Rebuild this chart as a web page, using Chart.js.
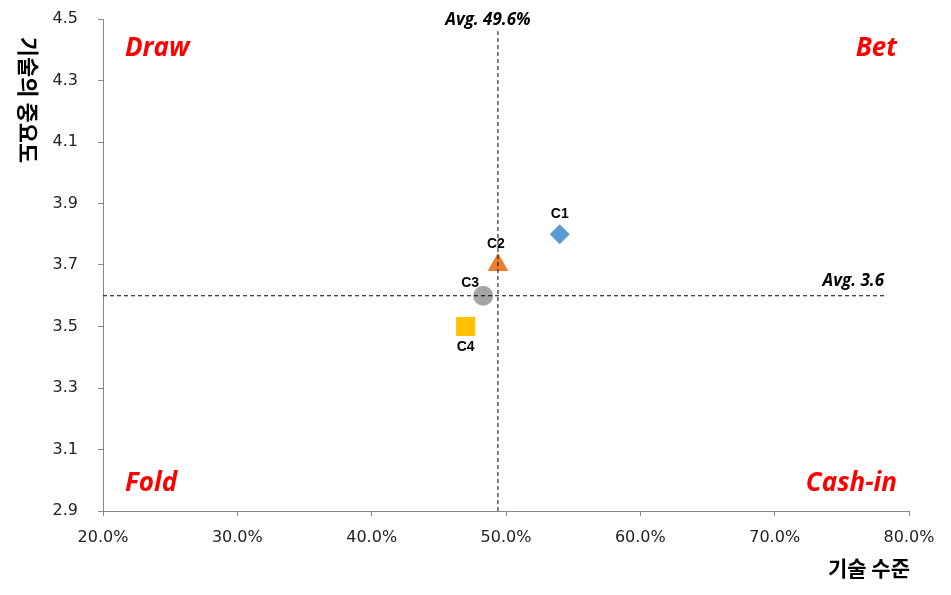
<!DOCTYPE html>
<html>
<head>
<meta charset="utf-8">
<script src="https://cdn.jsdelivr.net/npm/chart.js@4.4.0/dist/chart.umd.min.js"></script>
<style>
  html, body { margin: 0; padding: 0; background: #fff; }
  #wrap { width: 951px; height: 595px; position: relative; }
</style>
</head>
<body>
<div id="wrap"><canvas id="chart"></canvas></div>
<script>
const names = ["C1", "C2", "C3", "C4"];
const techLevel = [54.0, 49.4, 48.3, 47.0];
const importance = [3.8, 3.7, 3.6, 3.5];
const pointColors = ["#5B9BD5", "#ED7D31", "#A5A5A5", "#FFC000"];
const pointStyles = ["rectRot", "triangle", "circle", "rect"];
const pointSizes = [10, 12, 10, 13.5];

const avgLevel = 49.4;
const avgImportance = 3.6;
const avgLevelText = "Avg. 49.6%";
const avgImportanceText = "Avg. 3.6";

const xTicks = [20, 30, 40, 50, 60, 70, 80];
const yTicks = [2.9, 3.1, 3.3, 3.5, 3.7, 3.9, 4.1, 4.3, 4.5];

const xTitle = "기술 수준";
const yTitle = "기술의 중요도";

const axisColor = "#868686";
const tickFont = { family: "DejaVu Sans", size: 16 };

// label offsets around each marker (px)
const labelOffsets = [[0, -20], [-2, -21], [-13, -13], [0, 21]];

const annotations = {
  id: "annotations",
  afterDatasetsDraw(chart) {
    const { ctx, chartArea, scales } = chart;
    ctx.save();

    // point labels
    ctx.fillStyle = "#000";
    ctx.font = "bold 14px 'Liberation Sans'";
    ctx.textAlign = "center";
    ctx.textBaseline = "middle";
    names.forEach((name, i) => {
      const px = scales.x.getPixelForValue(techLevel[i]);
      const py = scales.y.getPixelForValue(importance[i]);
      ctx.fillText(name, px + labelOffsets[i][0], py + labelOffsets[i][1]);
    });

    // avg labels
    ctx.font = "italic bold 17px 'Open Sans'";
    ctx.textBaseline = "alphabetic";
    ctx.textAlign = "center";
    ctx.fillText(avgLevelText, scales.x.getPixelForValue(avgLevel) - 10, 25);
    ctx.textAlign = "right";
    ctx.fillText(avgImportanceText, 884, scales.y.getPixelForValue(avgImportance) - 10);

    // quadrant labels
    ctx.fillStyle = "#FF0000";
    ctx.font = "italic bold 26px 'Open Sans'";
    ctx.textAlign = "left";
    ctx.fillText("Draw", chartArea.left + 22, 56);
    ctx.fillText("Fold", chartArea.left + 22, 491);
    ctx.textAlign = "right";
    ctx.fillText("Bet", chartArea.right - 12, 56);
    ctx.fillText("Cash-in", chartArea.right - 12, 491);

    // axis titles
    ctx.fillStyle = "#000";
    ctx.font = "bold 21px 'Noto Sans CJK KR'";
    ctx.textAlign = "right";
    ctx.textBaseline = "middle";
    ctx.fillText(xTitle, 910, 568);

    ctx.font = "bold 22px 'Noto Sans CJK KR'";
    ctx.translate(28, 100);
    ctx.rotate(Math.PI / 2);
    ctx.textAlign = "center";
    ctx.fillText(yTitle, 0, 0);

    ctx.restore();
  },
};

const pointDatasets = names.map((name, i) => ({
  label: name,
  data: [{ x: techLevel[i], y: importance[i] }],
  pointStyle: pointStyles[i],
  pointRadius: pointSizes[i],
  pointHoverRadius: pointSizes[i],
  backgroundColor: pointColors[i],
  borderColor: pointColors[i],
  borderWidth: 0,
}));

const lineStyle = {
  showLine: true,
  pointRadius: 0,
  borderColor: "#000",
  borderWidth: 1,
  borderDash: [4, 3],
  fill: false,
};

new Chart(document.getElementById("chart"), {
  type: "scatter",
  data: {
    datasets: [
      {
        label: "avgLevel",
        data: [{ x: avgLevel, y: 2.9 }, { x: avgLevel, y: 4.46 }],
        ...lineStyle,
      },
      {
        label: "avgImportance",
        data: [{ x: 20, y: avgImportance }, { x: 78.3, y: avgImportance }],
        ...lineStyle,
      },
      ...pointDatasets,
    ],
  },
  options: {
    responsive: true,
    maintainAspectRatio: false,
    animation: false,
    layout: { padding: { left: 0, top: 19, right: 42, bottom: 0 } },
    plugins: {
      legend: { display: false },
      tooltip: { enabled: false },
    },
    scales: {
      x: {
        type: "linear",
        min: xTicks[0],
        max: xTicks[xTicks.length - 1],
        afterBuildTicks: (scale) => {
          scale.ticks = xTicks.map((v) => ({ value: v }));
        },
        afterFit: (scale) => {
          scale.height = 84;
          scale.paddingLeft = 0;
          scale.paddingRight = 0;
        },
        ticks: {
          color: "#222",
          font: tickFont,
          padding: 12,
          maxRotation: 0,
          callback: (v) => Number(v).toFixed(1) + "%",
        },
        grid: {
          drawOnChartArea: false,
          drawTicks: true,
          tickLength: 5,
          color: axisColor,
        },
        border: { display: true, color: axisColor, width: 1 },
      },
      y: {
        type: "linear",
        min: yTicks[0],
        max: yTicks[yTicks.length - 1],
        afterBuildTicks: (scale) => {
          scale.ticks = yTicks.map((v) => ({ value: v }));
        },
        afterFit: (scale) => {
          scale.width = 103;
          scale.paddingTop = 0;
          scale.paddingBottom = 0;
        },
        ticks: {
          color: "#222",
          font: tickFont,
          padding: 20,
          callback: (v) => Number(v).toFixed(1),
        },
        grid: {
          drawOnChartArea: false,
          drawTicks: true,
          tickLength: 5,
          color: axisColor,
        },
        border: { display: true, color: axisColor, width: 1 },
      },
    },
  },
  plugins: [annotations],
});
</script>
</body>
</html>
